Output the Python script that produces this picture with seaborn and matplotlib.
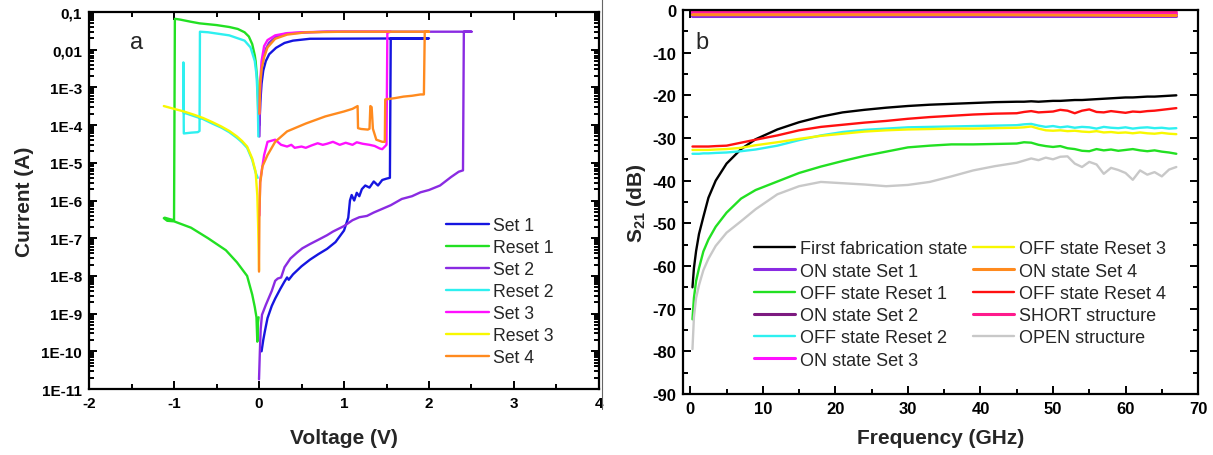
import matplotlib
matplotlib.use("Agg")
import matplotlib.pyplot as plt
from matplotlib.lines import Line2D
from matplotlib.ticker import LogLocator, MultipleLocator, NullFormatter
import seaborn as sns

# ---------------- panel a : I-V sweeps ----------------
set1_v = [0.03, 0.05, 0.07, 0.10, 0.15, 0.19, 0.25, 0.30, 0.33, 0.35, 0.40, 0.50, 0.60, 0.70, 0.80,
          0.90, 1.00, 1.05, 1.07, 1.09, 1.12, 1.15, 1.18, 1.21, 1.25, 1.30, 1.35, 1.40, 1.45, 1.50,
          1.54, 1.55, 2.00, 0.60, 0.40, 0.30, 0.20, 0.12, 0.08, 0.05, 0.03, 0.015, 0.005]
set1_i = [1.0e-10, 2.0e-10, 3.5e-10, 7.6e-10, 1.6e-9, 2.5e-9, 4.5e-9, 7.1e-9, 9.1e-9, 7.9e-9, 1.1e-8,
          1.8e-8, 2.7e-8, 3.8e-8, 5.2e-8, 7.9e-8, 1.6e-7, 3.5e-7, 1.0e-6, 1.4e-6, 1.0e-6, 1.6e-6,
          1.3e-6, 2.0e-6, 2.5e-6, 2.2e-6, 3.2e-6, 2.5e-6, 3.5e-6, 3.8e-6, 4.0e-6, 0.02, 0.02, 0.0195,
          0.0174, 0.0151, 0.0112, 7.6e-3, 5.0e-3, 2.8e-3, 1.26e-3, 4.0e-4, 1.0e-4]

reset1_v = [-0.01, -0.02, -0.04, -0.05, -0.08, -0.12, -0.17, -0.25, -0.35, -0.5, -0.7, -0.8, -0.93,
            -0.99, -1.0, -1.05, -1.11, -1.12, -1.08, -1.0, -0.8, -0.6, -0.39, -0.26, -0.14, -0.08,
            -0.05, -0.03, -0.02, -0.012, -0.005]
reset1_i = [2.5e-4, 1.5e-3, 5.0e-3, 7.1e-3, 0.0141, 0.0224, 0.029, 0.0355, 0.040, 0.045, 0.050, 0.055,
            0.063, 0.066, 3.0e-7, 3.2e-7, 3.5e-7, 3.4e-7, 2.9e-7, 2.8e-7, 1.9e-7, 1.0e-7, 4.8e-8,
            2.3e-8, 1.0e-8, 3.2e-9, 1.5e-9, 8.0e-10, 1.8e-10, 6.0e-10, 8.0e-10]

set2_v = [0.0, 0.01, 0.02, 0.035, 0.08, 0.15, 0.19, 0.22, 0.26, 0.30, 0.37, 0.45, 0.51, 0.60, 0.69,
          0.80, 0.87, 1.00, 1.10, 1.18, 1.27, 1.35, 1.45, 1.55, 1.68, 1.80, 1.90, 2.00, 2.13, 2.26,
          2.35, 2.40, 2.41, 2.50, 0.80, 0.60, 0.40, 0.30, 0.20, 0.12, 0.08, 0.05, 0.03, 0.015, 0.005]
set2_i = [1.8e-11, 1.0e-10, 4.0e-10, 9.3e-10, 1.7e-9, 4.0e-9, 7.4e-9, 8.5e-9, 9.1e-9, 1.7e-8, 2.9e-8,
          4.2e-8, 5.4e-8, 7.0e-8, 8.9e-8, 1.2e-7, 1.5e-7, 2.1e-7, 3.0e-7, 3.6e-7, 3.9e-7, 4.8e-7,
          6.0e-7, 7.5e-7, 1.1e-6, 1.3e-6, 1.65e-6, 1.9e-6, 2.5e-6, 4.2e-6, 5.8e-6, 6.3e-6, 0.03, 0.03,
          0.03, 0.029, 0.0275, 0.026, 0.022, 0.0155, 0.0105, 6.5e-3, 3.0e-3, 8.0e-4, 5.0e-5]

reset2_v = [-0.015, -0.04, -0.08, -0.14, -0.2, -0.26, -0.35, -0.44, -0.55, -0.66, -0.77, -0.86, -0.885,
            -0.89, -0.885, -0.80, -0.72, -0.70, -0.695, -0.6, -0.53, -0.35, -0.17, -0.1, -0.05, -0.03,
            -0.015, -0.008]
reset2_i = [4.0e-6, 5.5e-6, 1.2e-5, 2.5e-5, 3.5e-5, 4.6e-5, 6.5e-5, 8.5e-5, 1.1e-4, 1.45e-4, 1.75e-4,
            2.05e-4, 2.1e-4, 4.6e-3, 6.0e-5, 6.3e-5, 6.5e-5, 7.0e-5, 0.030, 0.029, 0.0275, 0.024,
            0.0174, 0.0115, 5.0e-3, 2.2e-3, 5.0e-4, 5.0e-5]

set3_v = [0.005, 0.013, 0.06, 0.10, 0.19, 0.26, 0.33, 0.38, 0.42, 0.50, 0.55, 0.62, 0.69, 0.75, 0.80,
          0.87, 0.95, 1.02, 1.10, 1.15, 1.22, 1.30, 1.36, 1.42, 1.45, 1.48, 1.50, 1.51, 1.55, 0.80,
          0.50, 0.33, 0.19, 0.10, 0.06, 0.03, 0.015, 0.005]
set3_i = [4.0e-7, 3.2e-6, 1.6e-5, 3.6e-5, 4.1e-5, 3.0e-5, 2.7e-5, 3.0e-5, 2.5e-5, 2.7e-5, 2.5e-5,
          2.9e-5, 3.3e-5, 3.0e-5, 3.2e-5, 3.6e-5, 3.0e-5, 3.4e-5, 3.0e-5, 3.5e-5, 3.2e-5, 3.0e-5,
          2.8e-5, 2.4e-5, 2.3e-5, 2.7e-5, 3.0e-5, 0.028, 0.03, 0.03, 0.029, 0.0275, 0.024, 0.018,
          0.0125, 5.0e-3, 1.5e-3, 2.0e-4]

reset3_v = [-1.12, -1.0, -0.885, -0.77, -0.66, -0.55, -0.44, -0.35, -0.26, -0.2, -0.14, -0.08, -0.04,
            -0.02, -0.01, 0.0]
reset3_i = [3.2e-4, 2.7e-4, 2.3e-4, 1.9e-4, 1.55e-4, 1.2e-4, 9.1e-5, 7.0e-5, 5.0e-5, 3.8e-5, 2.7e-5,
            1.3e-5, 5.8e-6, 1.35e-6, 2.0e-7, 1.4e-8]

set4_v = [0.0, 0.005, 0.015, 0.04, 0.10, 0.19, 0.33, 0.55, 0.78, 1.00, 1.10, 1.16, 1.165, 1.20, 1.28,
          1.30, 1.31, 1.325, 1.34, 1.38, 1.45, 1.48, 1.485, 1.60, 1.70, 1.80, 1.90, 1.94, 1.95, 2.00,
          1.00, 0.55, 0.33, 0.19, 0.10, 0.06, 0.03, 0.013, 0.005]
set4_i = [1.3e-8, 5.0e-7, 3.0e-6, 8.0e-6, 1.6e-5, 3.6e-5, 6.8e-5, 1.1e-4, 1.7e-4, 2.3e-4, 2.7e-4,
          3.2e-4, 8.3e-5, 7.9e-5, 7.6e-5, 8.0e-5, 3.2e-4, 3.0e-4, 8.0e-5, 4.1e-5, 3.6e-5, 3.6e-5,
          4.8e-4, 5.2e-4, 5.7e-4, 6.0e-4, 6.5e-4, 6.5e-4, 0.03, 0.03, 0.03, 0.0289, 0.0251, 0.0195,
          0.0115, 6.3e-3, 3.0e-3, 1.2e-3, 2.0e-4]

iv_curves = [
    ("Set 1", set1_v, set1_i, "#1515e0"),
    ("Reset 1", reset1_v, reset1_i, "#22e022"),
    ("Set 2", set2_v, set2_i, "#8a2be2"),
    ("Reset 2", reset2_v, reset2_i, "#2ef0f0"),
    ("Set 3", set3_v, set3_i, "#ff10ff"),
    ("Reset 3", reset3_v, reset3_i, "#f8f800"),
    ("Set 4", set4_v, set4_i, "#ff8a1e"),
]
iv_yticks = [1e-1, 1e-2, 1e-3, 1e-4, 1e-5, 1e-6, 1e-7, 1e-8, 1e-9, 1e-10, 1e-11]
iv_ytick_labels = ["0,1", "0,01", "1E-3", "1E-4", "1E-5", "1E-6", "1E-7", "1E-8", "1E-9", "1E-10", "1E-11"]

# ---------------- panel b : S21 ----------------
freq = [0.3, 0.5, 0.8, 1.2, 1.8, 2.5, 3.5, 5, 7, 9, 12, 15, 18, 21, 24, 27, 30, 33, 36, 39, 42, 45,
        46, 47, 48, 49, 50, 51, 52, 53, 54, 55, 56, 57, 58, 59, 60, 61, 62, 63, 64, 65, 66, 67]
s21_first = [-65.0, -60.5, -56.5, -52.5, -48.5, -44.0, -40.0, -36.0, -32.6, -30.3, -28.0, -26.3, -25.0,
             -24.0, -23.4, -22.9, -22.5, -22.2, -22.0, -21.8, -21.6, -21.5, -21.5, -21.4, -21.5, -21.4,
             -21.3, -21.3, -21.2, -21.1, -21.1, -21.0, -20.9, -20.8, -20.7, -20.6, -20.5, -20.5, -20.4,
             -20.3, -20.3, -20.2, -20.1, -20.0]
s21_reset1 = [-72.5, -67.5, -63.5, -60.5, -56.6, -53.8, -50.8, -47.5, -44.2, -42.2, -40.2, -38.2, -36.7,
              -35.4, -34.2, -33.2, -32.2, -31.8, -31.5, -31.5, -31.4, -31.3, -31.0, -31.1, -31.6, -31.9,
              -32.1, -31.9, -32.4, -32.6, -33.0, -33.1, -32.6, -32.9, -32.7, -33.0, -32.8, -32.6, -32.9,
              -33.1, -32.9, -33.2, -33.4, -33.7]
s21_reset2 = [-33.7, -33.7, -33.7, -33.7, -33.6, -33.6, -33.5, -33.4, -33.1, -32.7, -31.8, -30.5, -29.4,
              -28.6, -28.1, -27.8, -27.5, -27.4, -27.3, -27.2, -27.1, -27.0, -26.8, -26.7, -27.1, -27.4,
              -27.2, -27.5, -27.3, -27.6, -27.4, -27.5, -27.8, -27.4, -27.6, -27.7, -27.5, -27.8, -27.6,
              -27.5, -27.7, -27.6, -27.8, -27.7]
s21_reset3 = [-32.8, -32.8, -32.8, -32.8, -32.8, -32.8, -32.7, -32.6, -32.3, -31.7, -31.0, -30.2, -29.5,
              -29.0, -28.5, -28.2, -28.0, -27.9, -27.8, -27.8, -27.7, -27.6, -27.5, -27.3, -27.8, -28.2,
              -28.3, -28.2, -28.4, -28.3, -28.5, -28.6, -28.4, -28.7, -28.6, -28.8, -28.7, -28.9, -28.7,
              -28.9, -29.0, -28.8, -29.0, -29.1]
s21_reset4 = [-32.0, -32.0, -32.0, -32.0, -32.0, -32.0, -31.9, -31.8, -31.1, -30.4, -29.4, -28.2, -27.4,
              -26.9, -26.4, -26.0, -25.5, -25.1, -24.8, -24.5, -24.3, -24.2, -23.9, -23.7, -24.0, -23.9,
              -23.8, -23.4, -23.6, -24.2, -23.6, -23.3, -23.9, -24.0, -23.7, -23.9, -24.1, -23.8, -23.9,
              -23.7, -23.6, -23.4, -23.2, -23.0]
s21_open = [-79.5, -72.0, -67.5, -64.5, -61.0, -58.3, -55.3, -52.2, -49.5, -46.7, -43.2, -41.3, -40.3,
            -40.6, -40.9, -41.3, -41.0, -40.3, -39.0, -37.6, -36.6, -35.8, -35.3, -34.8, -35.2, -34.6,
            -35.0, -34.4, -34.3, -36.0, -36.8, -35.6, -36.2, -38.4, -37.0, -37.5, -38.2, -39.8, -37.6,
            -38.6, -38.0, -39.0, -37.4, -36.8]

freq_on = [0.3, 20, 40, 55, 67]
s21_on_set1 = [-1.5, -1.5, -1.5, -1.5, -1.5]
s21_on_set2 = [-0.9, -0.9, -0.9, -1.0, -1.0]
s21_on_set3 = [-0.6, -0.6, -0.6, -0.7, -0.8]
s21_on_set4 = [-1.1, -1.1, -1.1, -1.2, -1.3]
s21_short = [-0.3, -0.3, -0.3, -0.4, -0.5]

s21_curves = [
    ("First fabrication state", freq, s21_first, "#000000"),
    ("ON state Set 1", freq_on, s21_on_set1, "#8a2be2"),
    ("OFF state Reset 1", freq, s21_reset1, "#22e022"),
    ("ON state Set 2", freq_on, s21_on_set2, "#7d1a80"),
    ("OFF state Reset 2", freq, s21_reset2, "#2ef0f0"),
    ("ON state Set 3", freq_on, s21_on_set3, "#ff10ff"),
    ("OFF state Reset 3", freq, s21_reset3, "#f8f800"),
    ("ON state Set 4", freq_on, s21_on_set4, "#ff8a1e"),
    ("OFF state Reset 4", freq, s21_reset4, "#ff1010"),
    ("SHORT structure", freq_on, s21_short, "#ff1a8c"),
    ("OPEN structure", freq, s21_open, "#c8c8c8"),
]

sns.set_theme(style="ticks")
plt.rcParams["font.family"] = ["Liberation Sans", "DejaVu Sans"]
plt.rcParams["axes.unicode_minus"] = False
plt.rcParams["mathtext.fontset"] = "custom"
plt.rcParams["mathtext.rm"] = "Liberation Sans:bold"
plt.rcParams["mathtext.bf"] = "Liberation Sans:bold"
plt.rcParams["mathtext.default"] = "bf"

fig = plt.figure(figsize=(12.13, 4.56), dpi=100)
ax1 = fig.add_axes([0.0734, 0.1447, 0.4204, 0.8268])
ax2 = fig.add_axes([0.5631, 0.1338, 0.4246, 0.8421])

ax1.set_yscale("log")
for name, v, i, c in iv_curves:
    sns.lineplot(x=v, y=i, ax=ax1, sort=False, estimator=None, color=c, lw=1.7, label=name)

for name, f, s, c in s21_curves:
    lw = 2.2 if f is freq_on else 1.7
    sns.lineplot(x=f, y=s, ax=ax2, sort=False, estimator=None, color=c, lw=lw, label=name)

# axes a
ax1.set_xlim(-2, 4)
ax1.set_ylim(1e-11, 0.1)
ax1.set_xticks(range(-2, 5))
ax1.xaxis.set_minor_locator(MultipleLocator(0.5))
ax1.set_yticks(iv_yticks)
ax1.set_yticklabels(iv_ytick_labels)
ax1.yaxis.set_minor_locator(LogLocator(base=10, subs=range(2, 10), numticks=30))
ax1.yaxis.set_minor_formatter(NullFormatter())
ax1.set_xlabel("Voltage (V)", fontsize=15, fontweight="bold", labelpad=13)
ax1.set_ylabel("Current (A)", fontsize=15, fontweight="bold", labelpad=5)
ax1.text(0.094, 0.92, "a", transform=ax1.transAxes, fontsize=17, va="center", ha="center")
ax1.legend(loc="upper left", bbox_to_anchor=(0.70, 0.455), frameon=False, fontsize=12.7,
           handlelength=2.44, handletextpad=0.23, labelspacing=0.28, borderaxespad=0, borderpad=0)

# axes b
ax2.set_xlim(-1, 70)
ax2.set_ylim(-90, 0)
ax2.set_xticks(range(0, 71, 10))
ax2.xaxis.set_minor_locator(MultipleLocator(5))
ax2.set_yticks(range(-90, 1, 10))
ax2.yaxis.set_minor_locator(MultipleLocator(5))
ax2.set_xlabel("Frequency (GHz)", fontsize=15, fontweight="bold", labelpad=9)
ax2.set_ylabel(r"S$_{21}$ (dB)", fontsize=15, fontweight="bold", labelpad=3)
ax2.text(0.037, 0.917, "b", transform=ax2.transAxes, fontsize=17, va="center", ha="center")
ax2.legend(loc="upper left", bbox_to_anchor=(0.138, 0.40), frameon=False, fontsize=13, ncol=2,
           handlelength=2.27, handletextpad=0.28, labelspacing=0.29, columnspacing=0.28,
           borderaxespad=0, borderpad=0)

for ax, size in ((ax1, 11), (ax2, 12)):
    for sp in ax.spines.values():
        sp.set_linewidth(1.6)
        sp.set_color("black")
    ax.tick_params(which="both", direction="in", top=True, right=True, width=1.4, colors="black")
    ax.tick_params(which="major", length=6, labelsize=size, pad=5)
    ax.tick_params(which="minor", length=3.5)
    for lab in ax.get_xticklabels() + ax.get_yticklabels():
        lab.set_fontweight("bold")

fig.add_artist(Line2D([602 / 1213, 602 / 1213], [1.0, 1 - 410 / 456], color="#666666", lw=0.8))

fig.savefig("out.png", dpi=100, facecolor="white")
